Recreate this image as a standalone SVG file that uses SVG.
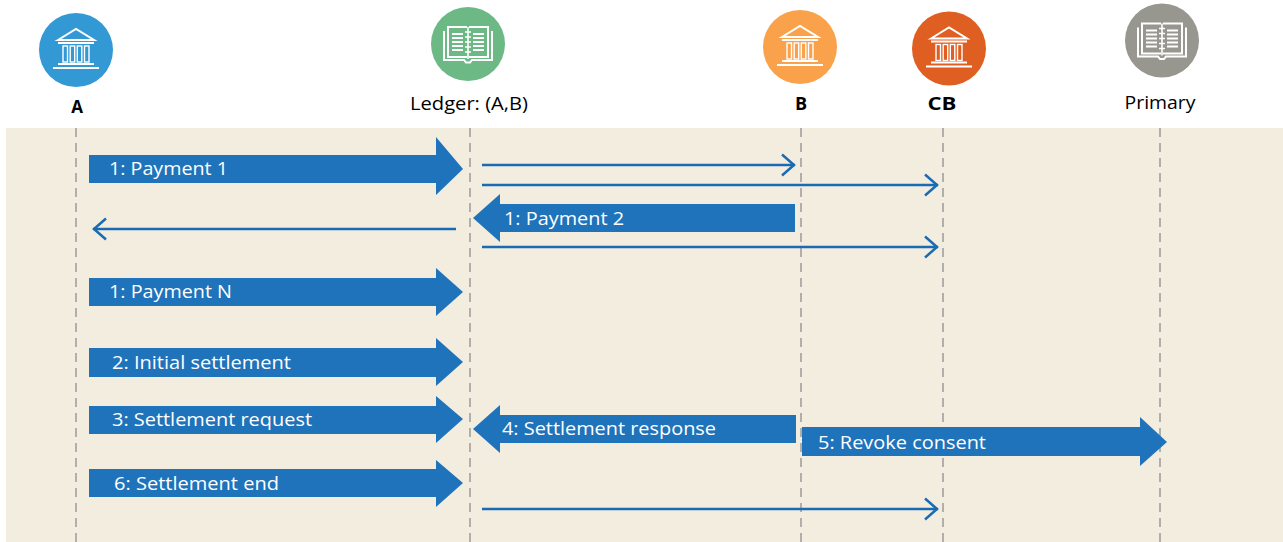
<svg xmlns="http://www.w3.org/2000/svg" width="1283" height="542" viewBox="0 0 1283 542">
<style>
.lbl{font-family:"Open Sans","Noto Sans","Liberation Sans",sans-serif;fill:#000;text-anchor:middle}
.lblb{font-family:"Open Sans","Noto Sans","Liberation Sans",sans-serif;fill:#000;font-weight:bold;text-anchor:middle}
.life{stroke:#9a9a9a;stroke-width:1.5;stroke-dasharray:9 6;fill:none}
.blk{fill:#1f73ba}
.bt{font-family:"Open Sans","Noto Sans","Liberation Sans",sans-serif;fill:#fff;font-size:17.5px}
.thin{stroke:#1a6bb3;stroke-width:2.5;fill:none;marker-end:url(#chev)}
.ic{stroke:#fff;fill:none}
</style>
<defs>
<marker id="chev" markerUnits="userSpaceOnUse" markerWidth="18" markerHeight="26" refX="15" refY="12" orient="auto">
<path d="M2,1.5 L14,12 L2,22.5" stroke="#1a6bb3" stroke-width="2.5" fill="none"/>
</marker>
<g id="bank">
<polygon class="ic" points="-18,-10 0,-21 18,-10" stroke-width="2"/>
<line class="ic" x1="-18" y1="-7" x2="18" y2="-7" stroke-width="2"/>
<rect class="ic" x="-13" y="-4" width="4.5" height="16" stroke-width="1.4"/>
<rect class="ic" x="-5.8" y="-4" width="4.5" height="16" stroke-width="1.4"/>
<rect class="ic" x="1.3" y="-4" width="4.5" height="16" stroke-width="1.4"/>
<rect class="ic" x="8.5" y="-4" width="4.5" height="16" stroke-width="1.4"/>
<line class="ic" x1="-18" y1="14" x2="18" y2="14" stroke-width="2"/>
<line class="ic" x1="-23" y1="18" x2="23" y2="18" stroke-width="2"/>
</g>
<g id="book">
<path class="ic" d="M-24,-13 V16 H-4 L-2,18.5 H2 L4,16 H24 V-13" stroke-width="2"/>
<path class="ic" d="M-1,-17 H-20 V13 H-1" stroke-width="2"/>
<path class="ic" d="M1,-17 H20 V13 H1" stroke-width="2"/>
<path class="ic" d="M-16,-10 H-5 M-16,-6 H-5 M-16,-2 H-5 M-16,2 H-5 M-16,6 H-5 M5,-10 H16 M5,-6 H16 M5,-2 H16 M5,2 H16 M5,6 H16" stroke-width="1.8"/>
<path class="ic" d="M0,-17 V15 M-3,-12 H3 M-3,-7 H3 M-3,-2 H3 M-3,3 H3 M-3,8 H3" stroke-width="1.6"/>
</g>
</defs>
<rect x="0" y="0" width="1283" height="542" fill="#ffffff"/>
<rect x="6" y="128" width="1277" height="414" fill="#f3ede0"/>
<g id="lifelines">
<line class="life" x1="76" y1="128" x2="76" y2="542"/>
<line class="life" x1="470" y1="128" x2="470" y2="542"/>
<line class="life" x1="801" y1="128" x2="801" y2="542"/>
<line class="life" x1="943" y1="128" x2="943" y2="542"/>
<line class="life" x1="1160" y1="128" x2="1160" y2="542"/>
</g>
<g id="node-A">
<circle cx="76" cy="50" r="37" fill="#3399d4"/>
<use href="#bank" x="76" y="50"/>
<text class="lblb" x="77" y="113" font-size="17">A</text>
</g>
<g id="node-Ledger">
<circle cx="468" cy="44" r="37" fill="#6cb985"/>
<use href="#book" x="468" y="44"/>
<text class="lbl" x="469" y="110" font-size="18" textLength="118" lengthAdjust="spacingAndGlyphs">Ledger: (A,B)</text>
</g>
<g id="node-B">
<circle cx="800" cy="47" r="37" fill="#f9a24b"/>
<use href="#bank" x="800" y="47"/>
<text class="lblb" x="801" y="110" font-size="18">B</text>
</g>
<g id="node-CB">
<circle cx="949" cy="48.5" r="37" fill="#df5e21"/>
<use href="#bank" x="949" y="48.5"/>
<text class="lblb" x="942" y="110" font-size="18" textLength="29" lengthAdjust="spacingAndGlyphs">CB</text>
</g>
<g id="node-Primary">
<circle cx="1162" cy="40.5" r="37" fill="#979790"/>
<use href="#book" x="1162" y="40.5"/>
<text class="lbl" x="1160" y="109" font-size="18" textLength="71" lengthAdjust="spacingAndGlyphs">Primary</text>
</g>
<g id="connectors">
<path class="blk" d="M89,155 H436 V137 L463,169 L436,195 V183 H89 Z"/>
<text class="bt" x="109" y="175" textLength="119" lengthAdjust="spacingAndGlyphs">1: Payment 1</text>
<line class="thin" x1="482" y1="165" x2="795" y2="165"/>
<line class="thin" x1="482" y1="185" x2="938" y2="185"/>
<path class="blk" d="M795,204 H500 V194 L473,218 L500,242 V232 H795 Z"/>
<text class="bt" x="504" y="225" textLength="120" lengthAdjust="spacingAndGlyphs">1: Payment 2</text>
<line class="thin" x1="456" y1="229" x2="93" y2="229"/>
<line class="thin" x1="482" y1="247" x2="938" y2="247"/>
<path class="blk" d="M89,278 H436 V268 L463,292 L436,316 V306 H89 Z"/>
<text class="bt" x="109" y="298" textLength="123" lengthAdjust="spacingAndGlyphs">1: Payment N</text>
<path class="blk" d="M89,348 H436 V338 L463,362 L436,386 V377 H89 Z"/>
<text class="bt" x="112" y="369" textLength="179" lengthAdjust="spacingAndGlyphs">2: Initial settlement</text>
<path class="blk" d="M89,406 H436 V396 L463,419 L436,443 V434 H89 Z"/>
<text class="bt" x="112" y="426" textLength="200" lengthAdjust="spacingAndGlyphs">3: Settlement request</text>
<path class="blk" d="M796,415 H500 V405 L473,429 L500,453 V443 H796 Z"/>
<text class="bt" x="502" y="435" textLength="214" lengthAdjust="spacingAndGlyphs">4: Settlement response</text>
<path class="blk" d="M802,427 H1140 V417 L1167,442 L1140,466 V456 H802 Z"/>
<text class="bt" x="818" y="449" textLength="168" lengthAdjust="spacingAndGlyphs">5: Revoke consent</text>
<path class="blk" d="M89,469 H436 V460 L463,483 L436,507 V497 H89 Z"/>
<text class="bt" x="114" y="490" textLength="165" lengthAdjust="spacingAndGlyphs">6: Settlement end</text>
<line class="thin" x1="482" y1="509" x2="938" y2="509"/>
</g>
</svg>
